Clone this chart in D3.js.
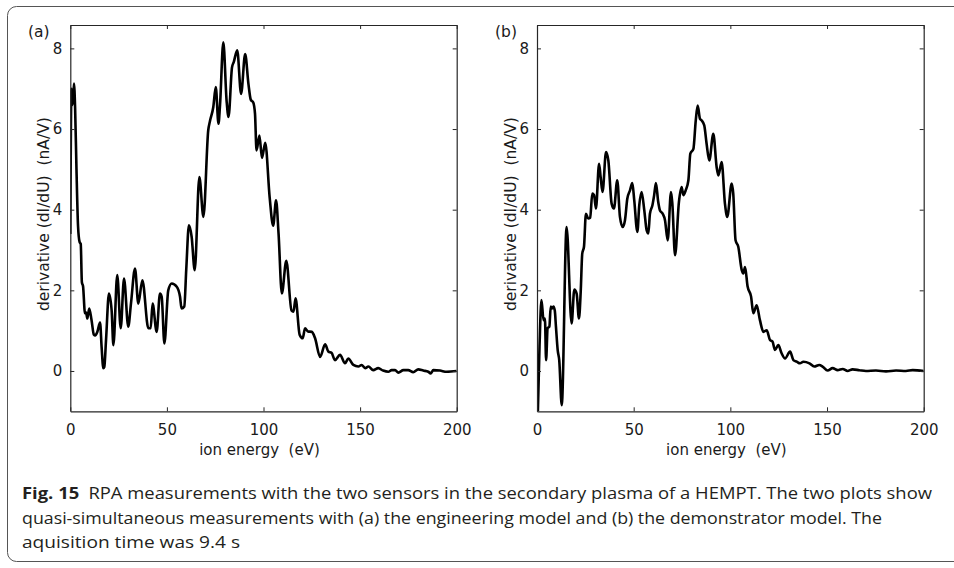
<!DOCTYPE html>
<html><head><meta charset="utf-8">
<script src="https://cdn.jsdelivr.net/npm/d3@7"></script>
<style>
html,body{margin:0;padding:0;background:#fff;}
svg{display:block;}
</style></head>
<body>
<svg id="chart" width="954" height="568"></svg>
<script>
// ---- data ----
const energyA = [0.0,0.6,1.2,1.9,2.5,3.2,4.0,4.8,5.4,6.0,6.6,7.6,8.2,8.8,9.8,11.0,12.2,12.9,14.0,15.4,16.2,17.1,17.6,18.5,20.0,21.4,22.3,24.3,26.1,27.8,30.0,31.4,33.5,35.2,37.3,40.4,41.6,42.6,44.7,46.4,47.3,48.7,50.7,52.5,55.1,56.8,57.6,59.0,60.0,61.4,62.8,64.4,66.8,68.9,71.4,72.3,74.0,75.3,76.7,77.5,79.2,80.9,81.9,83.7,84.6,86.4,88.4,90.5,92.2,93.4,94.7,95.6,96.4,97.9,99.2,100.9,103.2,105.0,106.5,107.8,109.5,111.8,114.5,115.5,116.6,118.7,120.3,121.5,123.0,125.0,126.7,129.3,131.9,133.6,135.2,137.0,139.6,142.2,143.9,146.5,149.1,150.8,152.6,154.3,156.8,159.4,161.9,164.6,166.3,168.1,169.8,172.4,174.9,177.5,180.1,182.7,185.3,186.5,187.9,191.3,194.8,200.0];
const derivA  = [3.4,7.0,6.6,7.13,6.5,5.0,3.6,3.2,3.15,2.2,2.1,1.43,1.45,1.3,1.55,1.26,0.9,0.88,0.97,1.2,0.6,0.07,0.1,0.77,1.92,1.5,0.64,2.38,1.06,2.29,1.1,1.67,2.54,1.67,2.25,1.06,1.06,1.67,0.97,1.92,1.84,0.68,2.0,2.17,2.09,1.84,1.55,1.6,2.5,3.61,3.33,2.5,4.81,3.82,5.97,6.2,6.54,7.04,6.13,6.6,8.15,6.7,6.3,7.53,7.66,7.95,6.87,7.86,7.12,6.73,6.66,6.38,5.47,5.84,5.28,5.66,4.3,3.6,4.23,3.4,1.92,2.73,1.5,1.47,1.8,0.9,0.81,1.06,0.98,0.97,0.81,0.35,0.66,0.48,0.45,0.27,0.4,0.19,0.31,0.15,0.11,0.15,0.07,0.11,0.02,0.07,0.01,-0.02,0.02,0.02,-0.04,0.02,0.02,-0.03,0.04,0.01,-0.02,-0.06,0.02,0.01,-0.02,0.0];

const energyB = [0.3,1.3,2.3,3.4,4.1,4.7,5.5,6.4,7.1,7.8,8.5,9.2,9.8,10.7,11.5,12.8,15.3,17.9,19.3,20.5,21.7,22.6,23.4,24.3,25.3,26.5,27.5,28.6,29.5,30.5,32.1,32.9,33.9,35.7,36.9,38.6,39.8,41.5,42.9,44.3,45.5,46.7,48.1,49.3,50.3,51.9,52.9,54.1,55.5,56.7,57.6,58.4,59.7,60.6,61.5,62.7,63.6,65.0,66.2,67.6,69.3,70.0,71.4,73.4,74.8,75.7,76.9,78.3,79.3,80.9,82.1,83.1,84.3,85.2,86.5,87.7,89.1,91.2,92.9,93.8,95.5,97.2,98.4,100.7,101.5,102.7,104.1,105.9,106.7,107.6,108.9,110.7,111.9,113.6,115.3,117.1,118.8,120.5,121.8,123.1,124.8,126.5,128.3,130.9,132.6,134.3,136.0,137.8,140.9,143.4,146.0,147.7,150.3,152.9,155.5,158.1,160.6,163.2,166.7,170.1,175.3,180.5,185.7,190.8,194.3,200.0];
const derivB  = [-1.3,0.6,1.76,1.26,1.3,0.27,1.06,1.1,1.6,1.55,1.6,1.5,1.1,0.52,0.27,-0.85,3.57,1.18,2.02,1.92,1.3,1.96,2.91,3.08,3.9,3.78,3.8,4.4,4.36,4.03,5.14,4.81,4.44,5.43,5.22,4.15,4.03,4.73,3.82,3.57,3.74,4.27,4.48,4.66,4.23,3.45,4.11,4.44,3.98,3.49,3.41,3.9,4.11,4.36,4.66,4.19,3.98,3.9,3.74,3.24,4.44,4.15,2.87,4.19,4.56,4.36,4.48,4.73,5.39,5.51,6.21,6.58,6.25,6.21,6.09,5.64,5.22,5.88,5.06,4.85,5.18,4.15,3.82,4.65,4.4,3.24,3.08,2.5,2.42,2.58,2.1,1.85,1.43,1.63,1.26,0.97,1.01,0.77,0.73,0.52,0.64,0.44,0.31,0.48,0.27,0.23,0.19,0.23,0.19,0.11,0.15,0.11,0.01,0.07,0.02,0.05,0.0,0.04,0.02,0.0,0.01,-0.01,0.01,0.0,0.02,0.0];

const xTicks = [0, 50, 100, 150, 200];
const yTicks = [0, 2, 4, 6, 8];
const panelLabels = ["(a)", "(b)"];
const xLabel = "ion energy\u00a0\u00a0(eV)";
const yLabel = "derivative (dI/dU)\u00a0\u00a0(nA/V)";
const captionBold = "Fig. 15";
const captionLines = [
  "RPA measurements with the two sensors in the secondary plasma of a HEMPT. The two plots show",
  "quasi-simultaneous measurements with (a) the engineering model and (b) the demonstrator model. The",
  "aquisition time was 9.4 s"
];

// ---- drawing ----
const svg = d3.select("#chart");
const FONT = "'DejaVu Sans', sans-serif";

// outer rounded frame
svg.append("rect")
  .attr("x", 7.5).attr("y", 6.5).attr("width", 970).attr("height", 555)
  .attr("rx", 9).attr("ry", 9)
  .attr("fill", "none").attr("stroke", "#555").attr("stroke-width", 1);

const plotTop = 25, plotBottom = 411.3;
const panels = [
  {x0: 70.3, x1: 456.7, e: energyA, d: derivA, label: panelLabels[0], lx: 28},
  {x0: 537,  x1: 923.7, e: energyB, d: derivB, label: panelLabels[1], lx: 495}
];

const defs = svg.append("defs");

panels.forEach((p, i) => {
  const x = d3.scaleLinear().domain([0, 200]).range([p.x0, p.x1]);
  const y = d3.scaleLinear().domain([-1, 8.58]).range([plotBottom, plotTop]);
  const g = svg.append("g");

  defs.append("clipPath").attr("id", "clip" + i)
    .append("rect").attr("x", p.x0).attr("y", plotTop)
    .attr("width", p.x1 - p.x0).attr("height", plotBottom - plotTop);

  // curve
  const pts = p.e.map((e, k) => [e, p.d[k]]);
  g.append("path")
    .datum(pts)
    .attr("clip-path", `url(#clip${i})`)
    .attr("fill", "none").attr("stroke", "#000").attr("stroke-width", 2.6)
    .attr("stroke-linejoin", "round")
    .attr("d", d3.line().x(d => x(d[0])).y(d => y(d[1])).curve(d3.curveMonotoneX));

  const axColor = "#262626";
  const bottomAx = g.append("g").attr("transform", `translate(0,${plotBottom})`)
    .call(d3.axisBottom(x).tickValues(xTicks).tickSizeInner(-4).tickSizeOuter(0).tickPadding(13));
  const topAx = g.append("g").attr("transform", `translate(0,${plotTop})`)
    .call(d3.axisTop(x).tickValues(xTicks).tickSizeInner(-4).tickSizeOuter(0).tickFormat(""));
  const leftAx = g.append("g").attr("transform", `translate(${p.x0},0)`)
    .call(d3.axisLeft(y).tickValues(yTicks).tickSizeInner(-4).tickSizeOuter(0).tickPadding(8));
  const rightAx = g.append("g").attr("transform", `translate(${p.x1},0)`)
    .call(d3.axisRight(y).tickValues(yTicks).tickSizeInner(-4).tickSizeOuter(0).tickFormat(""));
  [bottomAx, topAx, leftAx, rightAx].forEach(a => {
    a.select(".domain").attr("stroke", axColor).attr("stroke-width", 1.2);
    a.selectAll(".tick line").attr("stroke", axColor).attr("stroke-width", 1);
    a.selectAll("text").attr("font-family", FONT).attr("font-size", 15).attr("fill", "#1a1a1a");
  });

  g.append("text")
    .attr("x", (p.x0 + p.x1) / 2 - 4).attr("y", 455)
    .attr("text-anchor", "middle").attr("font-family", FONT).attr("font-size", 15)
    .attr("fill", "#1a1a1a").text(xLabel);
  g.append("text")
    .attr("transform", `translate(${p.x0 - 21},${(plotTop + plotBottom) / 2 - 4}) rotate(-90)`)
    .attr("text-anchor", "middle").attr("font-family", FONT).attr("font-size", 15.5)
    .attr("fill", "#1a1a1a").text(yLabel);
  g.append("text")
    .attr("x", p.lx).attr("y", 37)
    .attr("font-family", FONT).attr("font-size", 15.5).attr("fill", "#1a1a1a").text(p.label);
});

// caption
const capFont = "'Open Sans', 'Noto Sans', sans-serif";
const capY = [499, 524, 548];
const capEnds = [932, 882, 240];
captionLines.forEach((line, i) => {
  const t = svg.append("text")
    .attr("x", 22).attr("y", capY[i])
    .attr("font-family", capFont).attr("font-size", 15.5).attr("fill", "#231f20")
    .attr("textLength", capEnds[i] - 22).attr("lengthAdjust", "spacingAndGlyphs");
  if (i === 0) {
    t.append("tspan").attr("font-weight", "bold").text(captionBold + "\u2002");
  }
  t.append("tspan").text(line);
});
</script>
</body></html>
